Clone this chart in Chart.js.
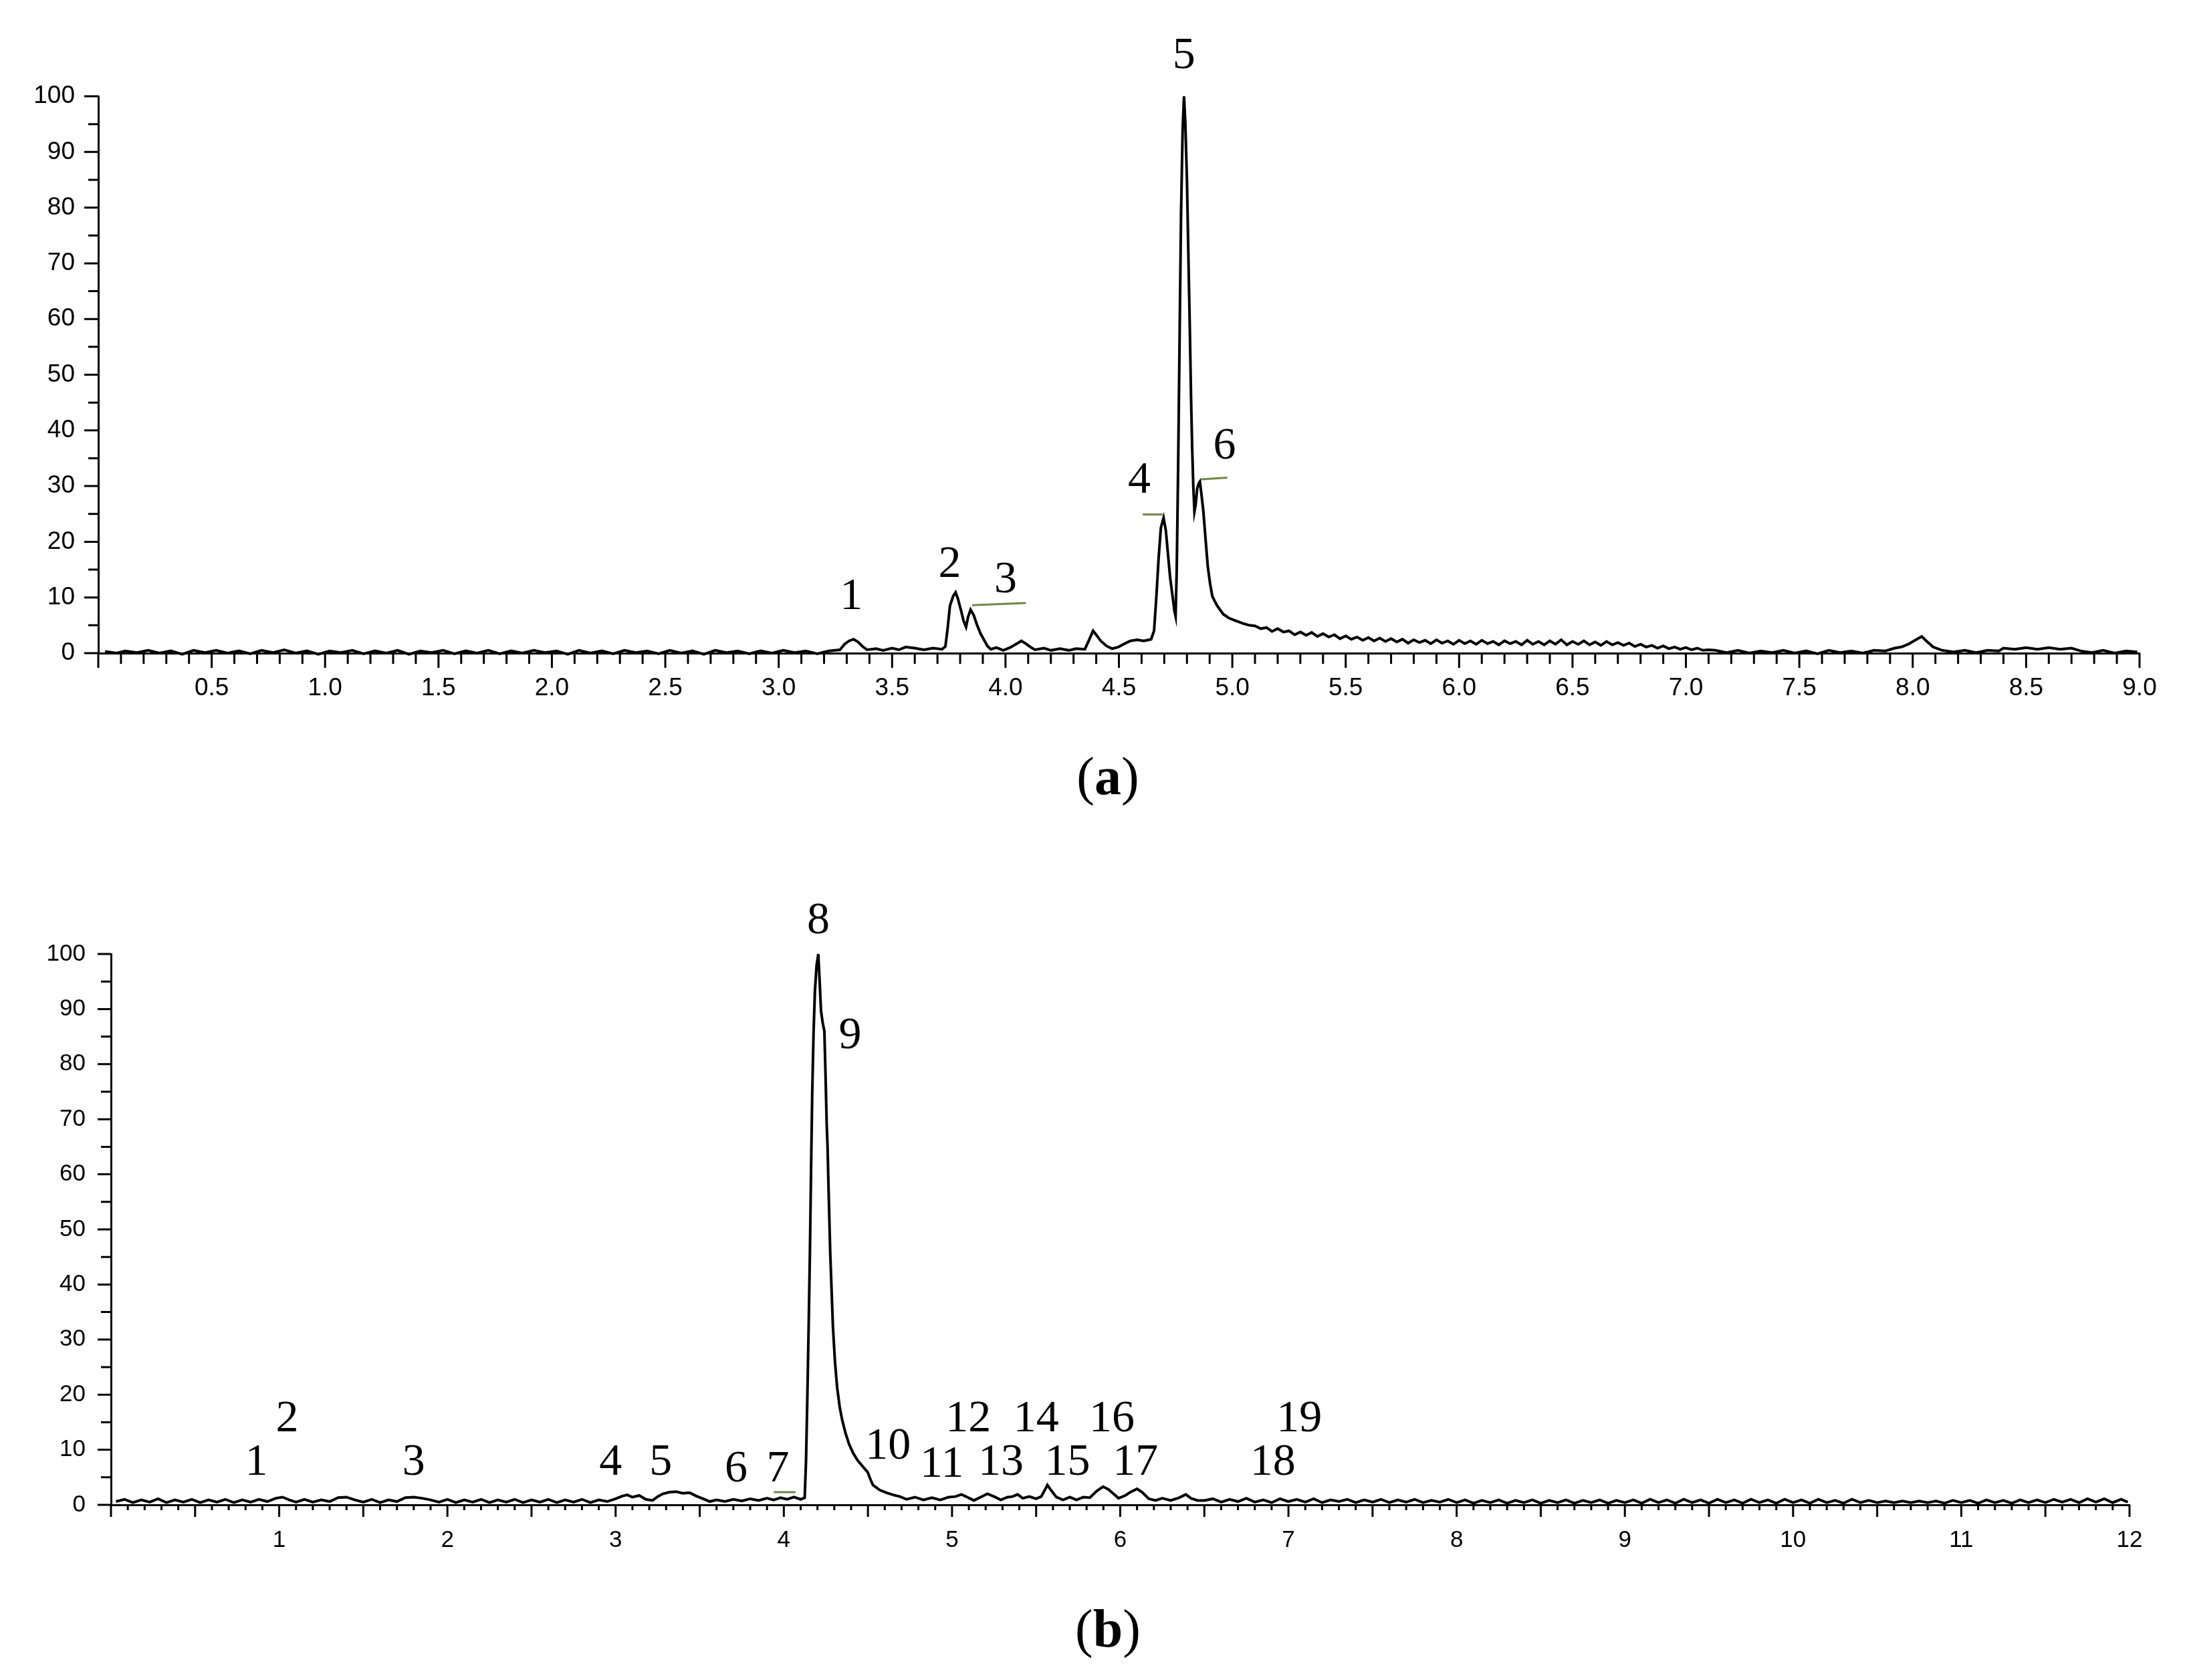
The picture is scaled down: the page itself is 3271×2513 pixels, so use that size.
<!DOCTYPE html>
<html>
<head>
<meta charset="utf-8">
<script src="https://cdn.jsdelivr.net/npm/chart.js@4.4.0/dist/chart.umd.min.js"></script>
<style>
  html, body { margin: 0; padding: 0; background: #fff; }
  body { width: 3271px; height: 2513px; position: relative; overflow: hidden; }
  canvas { position: absolute; left: 0; }
  #chartA { top: 0; }
  #chartB { top: 1250px; }
  .caption {
    position: absolute; transform: translate(-50%, -50%);
    font-family: 'Liberation Serif', 'DejaVu Serif', serif;
    font-size: 80px; line-height: 1; color: #000; white-space: nowrap;
  }
</style>
</head>
<body>
<canvas id="chartA" width="3271" height="1110"></canvas>
<canvas id="chartB" width="3271" height="1110"></canvas>
<div class="caption" style="left:1657px; top:1161px">(<b>a</b>)</div>
<div class="caption" style="left:1657px; top:2436px">(<b>b</b>)</div>
<script>
// ---- chromatogram (a): [time, relative intensity %] ----
const traceA = [
  [0.03,0.3],[0.08,0.0],[0.12,0.4],[0.17,0.1],[0.22,0.5],[0.27,0.0],[0.32,0.4],[0.37,-0.2],[0.42,0.5],[0.47,0.1],
  [0.52,0.5],[0.57,0.0],[0.62,0.4],[0.67,-0.1],[0.72,0.5],[0.77,0.1],[0.82,0.6],[0.87,0.0],[0.92,0.4],[0.97,-0.2],
  [1.02,0.4],[1.07,0.1],[1.12,0.5],[1.17,-0.1],[1.22,0.4],[1.27,0.0],[1.32,0.5],[1.37,-0.2],[1.42,0.4],[1.47,0.1],
  [1.52,0.5],[1.57,-0.1],[1.62,0.4],[1.67,0.0],[1.72,0.5],[1.77,-0.1],[1.82,0.4],[1.87,0.0],[1.92,0.5],[1.97,0.1],
  [2.02,0.4],[2.07,-0.2],[2.12,0.5],[2.17,0.0],[2.22,0.4],[2.27,-0.1],[2.32,0.5],[2.37,0.1],[2.42,0.4],[2.47,-0.1],
  [2.52,0.5],[2.57,0.0],[2.62,0.4],[2.67,-0.2],[2.72,0.5],[2.77,0.1],[2.82,0.4],[2.87,-0.1],[2.92,0.4],[2.97,0.0],
  [3.02,0.5],[3.07,0.1],[3.12,0.4],[3.17,-0.1],[3.22,0.4],[3.27,0.6],
  [3.29,1.6],[3.31,2.2],[3.33,2.5],[3.35,2.0],[3.37,1.2],[3.39,0.6],
  [3.43,0.8],[3.46,0.5],[3.50,0.9],[3.53,0.6],[3.56,1.1],[3.60,0.9],[3.64,0.6],[3.68,0.9],[3.72,0.7],
  [3.735,1.2],[3.745,4.5],[3.755,8.5],[3.77,10.3],[3.78,10.9],[3.79,9.8],[3.805,7.5],[3.815,5.8],[3.826,4.7],
  [3.835,6.5],[3.846,7.8],[3.86,6.8],[3.875,5.0],[3.89,3.5],[3.905,2.4],[3.92,1.3],[3.935,0.7],[3.96,1.0],
  [3.99,0.5],[4.02,1.0],[4.045,1.6],[4.07,2.2],[4.09,1.7],[4.11,1.1],[4.13,0.6],[4.17,0.9],[4.20,0.5],
  [4.24,0.8],[4.28,0.5],[4.31,0.8],[4.35,0.7],
  [4.37,2.5],[4.386,4.0],[4.40,3.3],[4.42,2.2],[4.445,1.3],[4.47,0.8],[4.497,1.1],[4.52,1.6],[4.55,2.2],
  [4.58,2.4],[4.61,2.2],[4.642,2.5],
  [4.655,4.0],[4.665,10],[4.675,17],[4.685,22.5],[4.697,24.3],[4.707,22.0],[4.715,18.4],[4.726,13.5],
  [4.737,10.1],[4.745,7.5],[4.75,6.6],
  [4.755,15],[4.761,33],[4.768,58],[4.774,79],[4.781,94],[4.787,100],[4.793,95],[4.80,85],[4.807,70],
  [4.813,57.6],[4.818,46],[4.823,36.9],[4.828,30],[4.833,25.4],[4.838,26.5],[4.845,29.5],[4.852,30.5],
  [4.857,30.8],[4.864,28.5],[4.872,25.6],[4.882,20.5],[4.892,15.5],[4.902,12.5],[4.912,10.2],[4.932,8.6],
  [4.96,7.0],[4.985,6.3],[5.01,5.9],[5.05,5.3],[5.075,5.0],
  [5.100,4.9],[5.125,4.4],[5.150,4.6],[5.175,3.9],[5.200,4.4],[5.225,3.8],[5.250,4.0],[5.275,3.3],[5.300,3.8],
  [5.325,3.2],[5.350,3.7],[5.375,3.0],[5.400,3.5],[5.425,2.9],[5.450,3.3],[5.475,2.6],[5.500,3.1],[5.525,2.5],
  [5.550,2.9],[5.575,2.3],[5.600,2.8],[5.625,2.2],[5.650,2.7],[5.675,2.1],[5.700,2.6],[5.725,2.0],[5.750,2.5],
  [5.775,1.8],[5.800,2.4],[5.825,1.9],[5.850,2.3],[5.875,1.7],[5.900,2.4],[5.925,1.8],[5.950,2.2],[5.975,1.6],
  [6.000,2.3],[6.025,1.7],[6.050,2.2],[6.075,1.6],[6.100,2.3],[6.125,1.7],[6.150,2.1],[6.175,1.5],[6.200,2.2],
  [6.225,1.7],[6.250,2.1],[6.275,1.5],[6.300,2.3],[6.325,1.6],[6.350,2.1],[6.375,1.5],[6.400,2.2],[6.425,1.6],
  [6.450,2.4],[6.475,1.5],[6.500,2.1],[6.525,1.6],[6.550,2.2],[6.575,1.5],[6.600,2.0],[6.625,1.4],[6.650,2.1],
  [6.675,1.5],[6.700,1.9],[6.725,1.4],[6.750,1.8],[6.775,1.2],[6.800,1.6],[6.825,1.1],[6.850,1.4],[6.875,0.9],
  [6.900,1.3],[6.925,0.8],[6.950,1.1],[6.975,0.7],[7.000,1.0],[7.025,0.6],[7.050,0.9],[7.075,0.5],[7.100,0.6],
  [7.13,0.5],[7.18,0.1],[7.23,0.5],[7.28,0.0],[7.33,0.4],[7.38,0.1],[7.43,0.5],[7.48,0.0],[7.53,0.4],[7.58,-0.1],
  [7.63,0.5],[7.68,0.1],[7.73,0.4],[7.78,0.0],[7.83,0.5],[7.88,0.4],[7.92,0.9],[7.95,1.1],[7.98,1.6],[8.01,2.3],
  [8.04,3.0],[8.06,2.2],[8.09,1.1],[8.13,0.5],[8.18,0.2],[8.23,0.5],[8.28,0.1],[8.33,0.5],[8.38,0.4],[8.40,0.9],
  [8.45,0.7],[8.50,1.0],[8.55,0.7],[8.60,1.0],[8.65,0.7],[8.70,0.9],[8.74,0.4],[8.79,0.1],[8.84,0.5],[8.89,0.0],
  [8.94,0.4],[8.99,0.2]
];
// integration marks (a): [t start, t end, y start, y end]
const marksA = [[3.853, 4.09, 8.6, 9.0], [4.605, 4.693, 24.9, 24.9], [4.863, 4.978, 31.2, 31.5]];
// peak numbers (a): [text, t, y]
const peaksA = [['1', 3.32, 10.1], ['2', 3.754, 15.8], ['3', 4.0, 13.1], ['4', 4.59, 30.9], ['5', 4.787, 107.2], ['6', 4.966, 37.1]];

// ---- chromatogram (b) ----
const traceB = [
  [0.03,0.6],[0.08,1.0],[0.13,0.4],[0.18,0.9],[0.23,0.5],[0.28,1.1],[0.33,0.4],[0.38,0.9],[0.43,0.5],[0.48,1.0],
  [0.53,0.4],[0.58,0.9],[0.63,0.5],[0.68,1.0],[0.73,0.4],[0.78,0.9],[0.83,0.5],[0.88,1.0],[0.93,0.6],[0.98,1.2],
  [1.02,1.4],[1.06,0.9],[1.10,0.5],[1.15,1.0],[1.20,0.5],[1.25,0.9],[1.30,0.6],[1.35,1.3],[1.40,1.4],[1.45,0.9],
  [1.50,0.5],[1.55,1.0],[1.60,0.4],[1.65,0.9],[1.70,0.6],[1.75,1.3],[1.80,1.4],[1.85,1.2],[1.90,0.9],[1.95,0.5],
  [2.00,1.0],[2.05,0.4],[2.10,0.9],[2.15,0.5],[2.20,1.0],[2.25,0.4],[2.30,0.9],[2.35,0.5],[2.40,1.0],[2.45,0.4],
  [2.50,0.9],[2.55,0.5],[2.60,1.0],[2.65,0.4],[2.70,0.9],[2.75,0.5],[2.80,1.0],[2.85,0.4],[2.90,0.9],[2.95,0.6],
  [3.00,1.1],[3.04,1.6],[3.07,1.8],[3.10,1.4],[3.14,1.7],[3.18,1.0],[3.22,0.8],[3.25,1.5],[3.28,2.0],[3.32,2.3],
  [3.36,2.4],[3.40,2.1],[3.44,2.2],[3.48,1.6],[3.52,1.1],[3.56,0.6],[3.60,0.9],[3.65,0.6],[3.70,1.0],[3.75,0.7],
  [3.80,1.1],[3.85,0.8],[3.90,1.2],[3.94,0.9],[3.98,1.3],[4.02,1.0],[4.06,1.4],[4.10,1.0],[4.124,1.3],
  [4.132,8],[4.14,19.8],[4.148,33],[4.155,45.6],[4.162,61],[4.169,75],[4.177,86],[4.185,93.4],[4.195,98],
  [4.205,100],[4.213,95],[4.221,89.7],[4.231,87.5],[4.241,86],[4.248,78],[4.255,69],[4.26,65],[4.266,57.3],
  [4.276,45.6],[4.292,32.3],[4.304,26],[4.317,21.3],[4.332,17.8],[4.347,15.4],[4.367,13],[4.388,11],
  [4.412,9.4],[4.438,8.1],[4.468,7.0],[4.499,5.9],[4.515,4.6],[4.53,3.6],[4.57,2.7],[4.61,2.2],[4.65,1.8],
  [4.69,1.5],[4.73,1.0],[4.78,1.4],[4.83,0.9],[4.88,1.3],[4.93,0.9],[4.98,1.4],[5.02,1.5],[5.056,1.9],
  [5.09,1.4],[5.13,0.8],[5.17,1.4],[5.21,2.0],[5.25,1.5],[5.29,0.9],[5.33,1.4],[5.36,1.5],[5.39,1.9],
  [5.42,1.2],[5.46,1.5],[5.50,1.1],[5.53,1.5],[5.55,2.6],[5.567,3.6],[5.59,2.6],[5.62,1.4],[5.66,0.9],
  [5.70,1.4],[5.74,0.9],[5.78,1.4],[5.82,1.3],[5.86,2.5],[5.898,3.3],[5.93,2.8],[5.96,2.0],[5.99,1.2],
  [6.03,1.7],[6.06,2.3],[6.10,2.9],[6.13,2.3],[6.17,1.1],[6.21,0.8],[6.25,1.2],[6.30,0.8],[6.35,1.3],
  [6.39,1.9],[6.42,1.2],[6.46,0.8],
  [6.50,0.8],[6.55,1.1],[6.60,0.5],[6.65,1.0],[6.70,0.6],[6.75,1.2],[6.80,0.5],[6.85,0.9],[6.90,0.4],[6.95,1.1],
  [7.00,0.6],[7.05,1.0],[7.10,0.5],[7.15,1.1],[7.20,0.4],[7.25,0.9],[7.30,0.6],[7.35,1.0],[7.40,0.4],[7.45,0.9],
  [7.50,0.5],[7.55,1.0],[7.60,0.4],[7.65,0.9],[7.70,0.5],[7.75,1.0],[7.80,0.4],[7.85,0.8],[7.90,0.5],[7.95,1.0],
  [8.00,0.4],[8.05,0.9],[8.10,0.3],[8.15,0.8],[8.20,0.4],[8.25,0.9],[8.30,0.3],[8.35,0.8],[8.40,0.4],[8.45,0.9],
  [8.50,0.3],[8.55,0.8],[8.60,0.4],[8.65,0.9],[8.70,0.3],[8.75,0.8],[8.80,0.4],[8.85,0.9],[8.90,0.3],[8.95,0.8],
  [9.00,0.4],[9.05,0.9],[9.10,0.3],[9.15,1.0],[9.20,0.4],[9.25,0.9],[9.30,0.3],[9.35,1.0],[9.40,0.4],[9.45,0.9],
  [9.50,0.3],[9.55,1.0],[9.60,0.4],[9.65,0.9],[9.70,0.3],[9.75,1.0],[9.80,0.4],[9.85,0.9],[9.90,0.3],[9.95,1.0],
  [10.00,0.4],[10.05,0.9],[10.10,0.3],[10.15,1.0],[10.20,0.4],[10.25,0.8],[10.30,0.3],[10.35,1.0],[10.40,0.4],[10.45,0.8],
  [10.50,0.4],[10.55,0.7],[10.60,0.4],[10.65,0.7],[10.70,0.4],[10.75,0.7],[10.80,0.4],[10.85,0.7],[10.90,0.3],[10.95,0.8],
  [11.00,0.4],[11.05,0.8],[11.10,0.3],[11.15,0.9],[11.20,0.4],[11.25,0.8],[11.30,0.3],[11.35,0.9],[11.40,0.4],[11.45,0.9],
  [11.50,0.4],[11.55,1.0],[11.60,0.5],[11.65,1.0],[11.70,0.4],[11.75,1.1],[11.80,0.5],[11.85,1.1],[11.90,0.4],[11.95,1.0],
  [11.99,0.5]
];
const marksB = [[3.94, 4.07, 2.3, 2.3]];
const peaksB = [
  ['1', 0.865, 7.6], ['2', 1.047, 15.5], ['3', 1.80, 7.6], ['4', 2.97, 7.6], ['5', 3.268, 7.6],
  ['6', 3.716, 6.4], ['7', 3.965, 6.4], ['8', 4.205, 105.9], ['9', 4.394, 85], ['10', 4.62, 10.6],
  ['11', 4.94, 7.3], ['12', 5.097, 15.5], ['13', 5.29, 7.6], ['14', 5.50, 15.5], ['15', 5.686, 7.6],
  ['16', 5.95, 15.5], ['17', 6.09, 7.6], ['18', 6.907, 7.6], ['19', 7.064, 15.5]
];

// tick marks drawn by hand so minor and major can have different lengths
const tickMarks = {
  id: 'tickMarks',
  afterDraw(chart, args, o) {
    const { ctx, scales: { x, y } } = chart;
    ctx.save();
    ctx.strokeStyle = '#000';
    ctx.lineWidth = 3;
    ctx.beginPath();
    const nx = Math.round(x.max / o.xMinor);
    for (let i = 0; i <= nx; i++) {
      const px = x.getPixelForValue(i * o.xMinor);
      const len = i % o.xMajorEvery === 0 ? o.xMajorLen : o.xMinorLen;
      ctx.moveTo(px, x.top);
      ctx.lineTo(px, x.top + len);
    }
    for (let i = 0; i <= 20; i++) {
      const py = y.getPixelForValue(i * 5);
      const len = i % 2 === 0 ? o.yMajorLen : o.yMinorLen;
      ctx.moveTo(y.right, py);
      ctx.lineTo(y.right - len, py);
    }
    ctx.stroke();
    ctx.restore();
  }
};

// peak numbers
const peakLabels = {
  id: 'peakLabels',
  afterDatasetsDraw(chart, args, o) {
    const { ctx, scales: { x, y } } = chart;
    ctx.save();
    ctx.fillStyle = '#000';
    ctx.font = o.font;
    ctx.textAlign = 'center';
    ctx.textBaseline = 'middle';
    o.items.forEach(p => ctx.fillText(p[0], x.getPixelForValue(p[1]), y.getPixelForValue(p[2])));
    ctx.restore();
  }
};

function buildChart(id, s) {
  const datasets = [{
    data: s.trace.map(p => ({ x: p[0], y: p[1] })),
    borderColor: '#000', borderWidth: 4, pointRadius: 0, tension: 0, clip: false
  }];
  s.marks.forEach(m => datasets.push({
    data: [{ x: m[0], y: m[2] }, { x: m[1], y: m[3] }],
    borderColor: '#6b8a3e', borderWidth: 3, pointRadius: 0, clip: false
  }));
  const tickFont = { family: "'Liberation Sans', Arial, sans-serif", size: s.fontSize };
  return new Chart(document.getElementById(id), {
    type: 'line',
    data: { datasets },
    plugins: [tickMarks, peakLabels],
    options: {
      responsive: false,
      animation: false,
      events: [],
      layout: { padding: { top: s.top, right: s.right, left: 0, bottom: 0 } },
      plugins: {
        legend: { display: false },
        tooltip: { enabled: false },
        tickMarks: s.ticks,
        peakLabels: { items: s.peaks, font: "68px 'Liberation Serif', 'DejaVu Serif', serif" }
      },
      scales: {
        x: {
          type: 'linear', min: 0, max: s.xMax,
          afterFit: sc => { sc.height = s.xHeight; },
          border: { display: true, color: '#000', width: 3 },
          grid: { display: false },
          ticks: {
            stepSize: s.xStep, autoSkip: false, maxRotation: 0, color: '#000',
            padding: s.xPad, font: tickFont,
            callback: v => v === 0 ? '' : (s.xFixed ? v.toFixed(1) : String(v))
          }
        },
        y: {
          min: 0, max: 100,
          afterFit: sc => { sc.width = s.left; },
          border: { display: true, color: '#000', width: 3 },
          grid: { display: false },
          ticks: { stepSize: 10, color: '#000', padding: s.yPad, font: tickFont }
        }
      }
    }
  });
}

buildChart('chartA', {
  trace: traceA, marks: marksA, peaks: peaksA,
  xMax: 9, xStep: 0.5, xFixed: true,
  left: 147, top: 144, right: 71, xHeight: 133,
  xPad: 23, yPad: 27, fontSize: 37,
  ticks: { xMinor: 0.1, xMajorEvery: 5, xMajorLen: 22, xMinorLen: 16, yMajorLen: 21, yMinorLen: 15 }
});

buildChart('chartB', {
  trace: traceB, marks: marksB, peaks: peaksB,
  xMax: 12, xStep: 1, xFixed: false,
  left: 166, top: 177, right: 86, xHeight: 109,
  xPad: 24, yPad: 30, fontSize: 35,
  ticks: { xMinor: 0.1, xMajorEvery: 5, xMajorLen: 18, xMinorLen: 8, yMajorLen: 20, yMinorLen: 15 }
});
</script>
</body>
</html>
